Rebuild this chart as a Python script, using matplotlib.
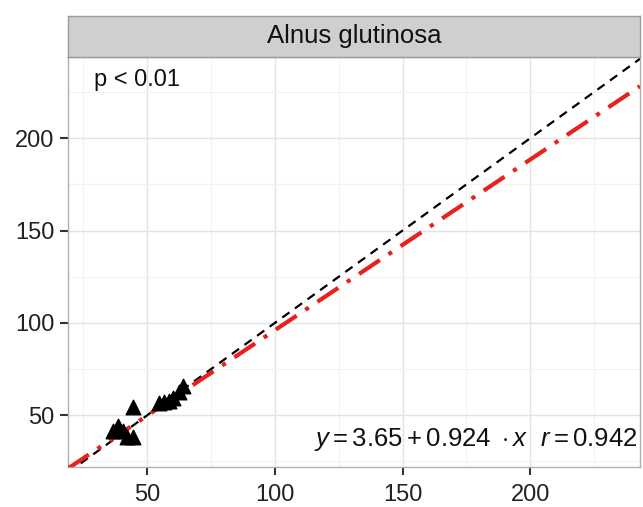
import matplotlib
matplotlib.use("Agg")
import matplotlib.pyplot as plt
from matplotlib.ticker import MultipleLocator

plt.rcParams['font.family'] = ['Liberation Sans', 'DejaVu Sans']
plt.rcParams['mathtext.fontset'] = 'custom'
plt.rcParams['mathtext.rm'] = 'Liberation Sans'
plt.rcParams['mathtext.it'] = 'Liberation Sans:italic'

obs_x = [36.5, 38.5, 40.5, 42.0, 44.5, 44.5, 54.5, 56.5, 58.5, 60.0, 62.5, 64.0]
obs_y = [41.5, 44.0, 41.5, 38.5, 38.5, 54.5, 56.5, 57.0, 58.0, 59.5, 62.5, 66.0]
intercept = 3.65
slope = 0.924
title = "Alnus glutinosa"

fig = plt.figure(figsize=(6.43, 5.07), dpi=100)
ax = fig.add_axes([0.1058, 0.0789, 0.8895, 0.8087])

xlim = (19.0, 243.0)
ylim = (22.0, 244.0)

ax.plot(xlim, xlim, color='black', linestyle=(0, (4, 3)), lw=1.6, zorder=3)
ax.plot(xlim, [intercept + slope * v for v in xlim], color='#e8201e',
        linestyle=(0, (6, 2.5, 1, 2.5)), lw=3.0, zorder=4)
ax.scatter(obs_x, obs_y, marker='^', s=110, color='black', zorder=5)

ax.set_xlim(*xlim)
ax.set_ylim(*ylim)
ax.xaxis.set_major_locator(MultipleLocator(50))
ax.yaxis.set_major_locator(MultipleLocator(50))
ax.xaxis.set_minor_locator(MultipleLocator(25))
ax.yaxis.set_minor_locator(MultipleLocator(25))
ax.grid(which='major', color='#e3e3e3', lw=1.0)
ax.grid(which='minor', color='#f2f2f2', lw=0.8)
ax.set_axisbelow(True)
ax.tick_params(which='major', length=6, width=1.5, color='#333333',
               labelsize=17, labelcolor='#222222')
ax.tick_params(axis='y', pad=4)
ax.tick_params(axis='x', pad=6)
ax.tick_params(which='minor', length=0)
for s in ax.spines.values():
    s.set_color('#b0b0b0')
    s.set_linewidth(1.0)

ax.text(0.045, 0.97, "p < 0.01", transform=ax.transAxes, fontsize=17,
        ha='left', va='top', color='#111111')
ax.text(0.995, 0.035, r"$y = 3.65 + 0.924\ \cdot x\ \ r = 0.942$",
        transform=ax.transAxes, fontsize=18.5, ha='right', va='bottom',
        color='#111111')

# facet strip
strip = fig.add_axes([0.1058, 0.8876, 0.8895, 0.0809])
strip.set_facecolor('#cfcfcf')
strip.set_xticks([])
strip.set_yticks([])
for s in strip.spines.values():
    s.set_color('#9a9a9a')
    s.set_linewidth(1.0)
strip.text(0.5, 0.5, title, ha='center', va='center', fontsize=18.5,
           color='#111111', transform=strip.transAxes)

fig.savefig("out.png", dpi=100)
